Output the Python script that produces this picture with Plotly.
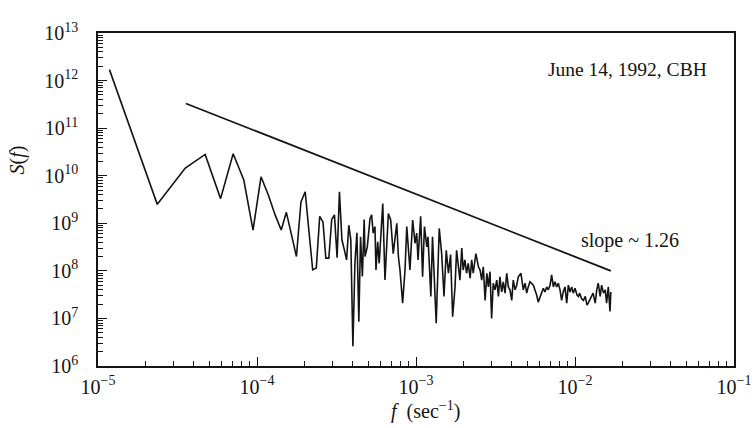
import plotly.graph_objects as go

# Spectrum S(f) (f in sec^-1)
freq = [
    1.18e-5, 2.36e-5, 3.54e-5, 4.72e-5, 5.9e-5, 7.08e-5, 8.26e-5, 9.44e-5, 1.06e-4, 1.18e-4,
    1.3e-4, 1.42e-4, 1.53e-4, 1.65e-4, 1.77e-4, 1.89e-4, 2.01e-4, 2.12e-4, 2.24e-4, 2.36e-4,
    2.48e-4, 2.6e-4, 2.71e-4, 2.83e-4, 2.95e-4, 3.07e-4, 3.19e-4, 3.3e-4, 3.42e-4, 3.54e-4,
    3.66e-4, 3.78e-4, 3.89e-4, 4.01e-4, 4.13e-4, 4.25e-4, 4.37e-4, 4.48e-4, 4.6e-4, 4.72e-4,
    4.78e-4, 4.94e-4, 5.14e-4, 5.26e-4, 5.38e-4, 5.52e-4, 5.6e-4, 5.74e-4, 5.87e-4, 6.18e-4,
    6.38e-4, 6.7e-4, 6.93e-4, 7.19e-4, 7.38e-4, 7.57e-4, 7.75e-4, 7.93e-4, 8.24e-4, 8.53e-4,
    8.75e-4, 9.16e-4, 9.53e-4, 9.86e-4, 1.01e-3, 1.03e-3, 1.07e-3, 1.10e-3, 1.13e-3, 1.17e-3,
    1.19e-3, 1.24e-3, 1.27e-3, 1.34e-3, 1.40e-3, 1.45e-3, 1.50e-3, 1.55e-3, 1.60e-3, 1.65e-3,
    1.70e-3, 1.76e-3, 1.80e-3, 1.85e-3, 1.89e-3, 1.94e-3, 1.98e-3, 2.03e-3, 2.08e-3, 2.13e-3,
    2.19e-3, 2.24e-3, 2.29e-3, 2.38e-3, 2.47e-3, 2.53e-3, 2.59e-3, 2.65e-3, 2.72e-3, 2.79e-3,
    2.85e-3, 2.92e-3, 2.99e-3, 3.06e-3, 3.14e-3, 3.22e-3, 3.30e-3, 3.37e-3, 3.46e-3, 3.54e-3,
    3.63e-3, 3.72e-3, 3.81e-3, 3.90e-3, 4.0e-3, 4.09e-3, 4.2e-3, 4.3e-3, 4.4e-3, 4.57e-3,
    4.73e-3, 4.85e-3, 4.97e-3, 5.08e-3, 5.21e-3, 5.47e-3, 5.6e-3, 5.74e-3, 5.87e-3, 6.03e-3,
    6.18e-3, 6.32e-3, 6.47e-3, 6.64e-3, 6.79e-3, 6.97e-3, 7.13e-3, 7.31e-3, 7.48e-3, 7.67e-3,
    7.85e-3, 8.05e-3, 8.24e-3, 8.43e-3, 8.65e-3, 8.87e-3, 9.08e-3, 9.31e-3, 9.53e-3, 9.75e-3,
    1.0e-2, 1.03e-2, 1.05e-2, 1.07e-2, 1.10e-2, 1.13e-2, 1.16e-2, 1.19e-2, 1.21e-2, 1.24e-2,
    1.27e-2, 1.30e-2, 1.34e-2, 1.37e-2, 1.40e-2, 1.44e-2, 1.47e-2, 1.51e-2, 1.55e-2, 1.58e-2,
    1.62e-2, 1.66e-2, 1.68e-2,
]
spectrum = [
    1.7e12, 2.5e9, 1.45e10, 2.8e10, 3.3e9, 2.9e10, 8.1e9, 7.2e8, 9.5e9, 3.9e9,
    1.5e9, 7.2e8, 1.7e9, 5.6e8, 2.0e8, 2.8e9, 4.6e9, 7.0e8, 1.05e8, 1.15e8,
    1.4e9, 1.07e9, 1.85e8, 1.85e8, 1.2e9, 1.5e9, 1.9e8, 4.6e9, 4.5e8, 2.8e8,
    1.7e8, 9.1e8, 4.5e8, 2.6e6, 1.5e8, 6.3e8, 8.5e6, 5.2e8, 7.6e7, 1.2e9,
    2.0e8, 3.2e8, 1.27e9, 1.5e9, 6.2e8, 8.5e8, 1.04e8, 4.1e8, 1.44e8, 2.6e9,
    6.4e7, 1.6e9, 1.17e9, 2.3e8, 5.2e8, 1.0e9, 2.0e8, 1.04e8, 2.1e7, 1.04e8,
    8.5e8, 1.04e8, 1.17e9, 3.8e8, 6.2e8, 1.7e8, 1.4e9, 7.5e7, 8.5e8, 3.2e8,
    5.2e8, 2.9e7, 5.2e8, 7.9e6, 7.8e8, 2.3e8, 2.9e7, 2.7e8, 8.9e7, 2.2e8,
    1.09e7, 4.6e7, 2.7e8, 1.22e8, 6.4e7, 3.0e8, 1.04e8, 1.7e8, 8.9e7, 1.44e8,
    7.0e7, 1.7e8, 8.9e7, 2.3e8, 1.22e8, 1.04e8, 6.4e7, 1.22e8, 2.4e7, 8.9e7,
    4.6e7, 9.6e7, 1.0e7, 5.5e7, 4.0e7, 6.4e7, 2.9e7, 7.5e7, 3.6e7, 5.9e7,
    3.4e7, 8.9e7, 4.6e7, 4.0e7, 2.4e7, 6.4e7, 4.0e7, 5.0e7, 7.5e7, 8.9e7,
    4.0e7, 5.5e7, 3.4e7, 4.6e7, 5.9e7, 5.0e7, 4.0e7, 3.1e7, 2.2e7, 2.9e7,
    3.4e7, 4.3e7, 3.6e7, 4.6e7, 4.0e7, 5.0e7, 8.2e7, 4.6e7, 5.9e7, 4.6e7,
    5.5e7, 4.0e7, 2.4e7, 3.6e7, 4.6e7, 2.1e7, 5.0e7, 3.6e7, 4.6e7, 3.4e7,
    4.3e7, 3.1e7, 2.9e7, 3.4e7, 2.6e7, 2.4e7, 2.9e7, 1.9e7, 2.1e7, 2.4e7,
    2.9e7, 3.4e7, 2.1e7, 4.0e7, 5.5e7, 2.9e7, 5.0e7, 3.4e7, 4.0e7, 2.1e7,
    4.6e7, 1.4e7, 3.6e7,
]

# Reference slope line (endpoints)
slope_f = [3.57e-5, 1.68e-2]
slope_S = [3.3e11, 1.0e8]

# Axis decades and tick labels
x_decades = [-5, -4, -3, -2, -1]
y_decades = [6, 7, 8, 9, 10, 11, 12, 13]
x_ticktext = ["10<sup>−5</sup>", "10<sup>−4</sup>", "10<sup>−3</sup>", "10<sup>−2</sup>", "10<sup>−1</sup>"]
y_ticktext = ["10<sup>6</sup>", "10<sup>7</sup>", "10<sup>8</sup>", "10<sup>9</sup>",
              "10<sup>10</sup>", "10<sup>11</sup>", "10<sup>12</sup>", "10<sup>13</sup>"]

x_tickvals = [10.0 ** e for e in x_decades]
y_tickvals = [10.0 ** e for e in y_decades]
x_minor = [m * 10.0 ** e for e in x_decades[:-1] for m in range(2, 10)]
y_minor = [m * 10.0 ** e for e in y_decades[:-1] for m in range(2, 10)]

FONT = "Liberation Serif, Times New Roman, serif"
INK = "#141414"

fig = go.Figure()
fig.add_trace(go.Scatter(x=freq, y=spectrum, mode="lines",
                         line=dict(color=INK, width=1.6), showlegend=False))
fig.add_trace(go.Scatter(x=slope_f, y=slope_S, mode="lines",
                         line=dict(color=INK, width=1.8), showlegend=False))

axis_common = dict(
    type="log", showgrid=False, zeroline=False, automargin=False,
    showline=True, linecolor=INK, linewidth=1.5, mirror=True,
    ticks="inside", ticklen=9, tickwidth=1.2, tickcolor=INK,
    tickfont=dict(family=FONT, size=20, color=INK),
)

fig.update_xaxes(range=[-5, -1], tickvals=x_tickvals, ticktext=x_ticktext, ticklabelstandoff=2,
                 minor=dict(tickvals=x_minor, ticks="inside", ticklen=5, tickwidth=1,
                            tickcolor=INK, showgrid=False),
                 **axis_common)
fig.update_yaxes(range=[6, 13], tickvals=y_tickvals, ticktext=y_ticktext, ticklabelstandoff=14,
                 minor=dict(tickvals=y_minor, ticks="inside", ticklen=5, tickwidth=1,
                            tickcolor=INK, showgrid=False),
                 **axis_common)

fig.update_layout(
    width=755, height=428,
    margin=dict(l=98, r=21, t=33, b=62),
    paper_bgcolor="white", plot_bgcolor="white",
    font=dict(family=FONT, color=INK),
    annotations=[
        dict(text="June 14, 1992, CBH", xref="paper", yref="paper", x=0.833, y=0.889,
             xanchor="center", yanchor="middle",
             showarrow=False, font=dict(size=19.5, family=FONT, color=INK)),
        dict(text="slope ~ 1.26", xref="paper", yref="paper", x=0.836, y=0.378,
             xanchor="center", yanchor="middle",
             showarrow=False, font=dict(size=20, family=FONT, color=INK)),
        dict(text="<i>S</i>(<i>f</i>)", xref="paper", yref="paper", x=-0.126, y=0.62,
             xanchor="center", yanchor="middle",
             textangle=-90, showarrow=False, font=dict(size=20, family=FONT, color=INK)),
        dict(text="<i>f</i>  (sec<sup>−1</sup>)", xref="paper", yref="paper", x=0.515, y=-0.135,
             xanchor="center", yanchor="middle",
             showarrow=False, font=dict(size=20, family=FONT, color=INK)),
    ],
)

fig.write_html("out.html")
